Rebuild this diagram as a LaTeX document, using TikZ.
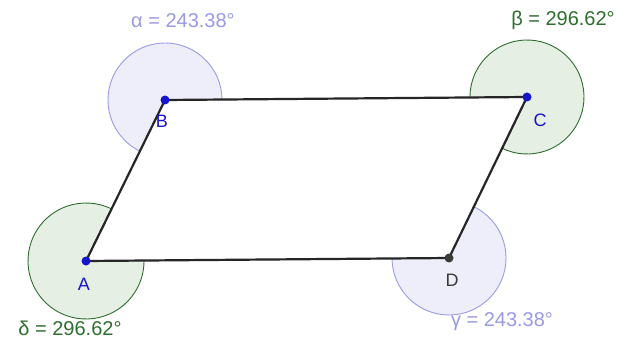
\documentclass[tikz,border=0pt]{standalone}
\usepackage{fontspec}
\setmainfont{Liberation Sans}
\usetikzlibrary{calc,positioning}
\definecolor{AngGreen}{HTML}{2E6E2E}
\definecolor{AngGreenFill}{HTML}{E6EFE3}
\definecolor{AngBlue}{HTML}{9A9AE6}
\definecolor{AngBlueFill}{HTML}{EEEEFB}
\definecolor{PtBlue}{HTML}{1515CC}
\definecolor{PtGray}{HTML}{3A3A3A}

\tikzset{
  side/.style={line width=2.2pt, draw=black!85},
  greensector/.style={draw=AngGreen, fill=AngGreenFill, line width=0.9pt},
  bluesector/.style={draw=AngBlue, fill=AngBlueFill, line width=0.9pt},
  ptlabel/.style={font=\fontsize{18}{20}\selectfont, inner sep=1pt},
  anglabel/.style={font=\fontsize{20}{22}\selectfont, inner sep=1pt}
}

\begin{document}
\begin{tikzpicture}[x=1pt,y=1pt]
    \useasboundingbox[fill=white] (0,0) rectangle (624,338);

    % vertices
    \coordinate (A) at (86,77);
    \coordinate (B) at (165,238);
    \coordinate (C) at (527,241);
    \coordinate (D) at (449,80);

    % angle sectors
    \draw[greensector] (A) -- ++(63.86:58) arc[start angle=63.86, delta angle=296.62, radius=58] -- cycle;
    \draw[bluesector] (B) -- ++(0.47:57) arc[start angle=0.47, delta angle=243.38, radius=57] -- cycle;
    \draw[greensector] (C) -- ++(243.86:57) arc[start angle=243.86, delta angle=296.62, radius=57] -- cycle;
    \draw[bluesector] (D) -- ++(180.47:57) arc[start angle=180.47, delta angle=243.38, radius=57] -- cycle;

    % sides
    \draw[side] (A) -- (B) -- (C) -- (D) -- cycle;

    % points
    \fill[PtBlue] (A) circle[radius=4.5pt];
    \fill[PtBlue] (B) circle[radius=4.5pt];
    \fill[PtBlue] (C) circle[radius=4.5pt];
    \fill[PtGray] (D) circle[radius=4.5pt];

    % labels
    \node[ptlabel, text=PtBlue] (labA) at (84,54) {A};
    \node[ptlabel, text=PtBlue] (labB) at (162,217) {B};
    \node[ptlabel, text=PtBlue] (labC) at (540,218) {C};
    \node[ptlabel, text=PtGray] (labD) at (452,58) {D};

    \node[anglabel, text=AngBlue] (alpha) at (183,317) {α = 243.38°};
    \node[anglabel, text=AngGreen] (beta) at (563,318) {β = 296.62°};
    \node[anglabel, text=AngBlue] (gamma) at (502,16) {γ = 243.38°};
    \node[anglabel, text=AngGreen] (delta) at (70,10) {δ = 296.62°};
\end{tikzpicture}
\end{document}
